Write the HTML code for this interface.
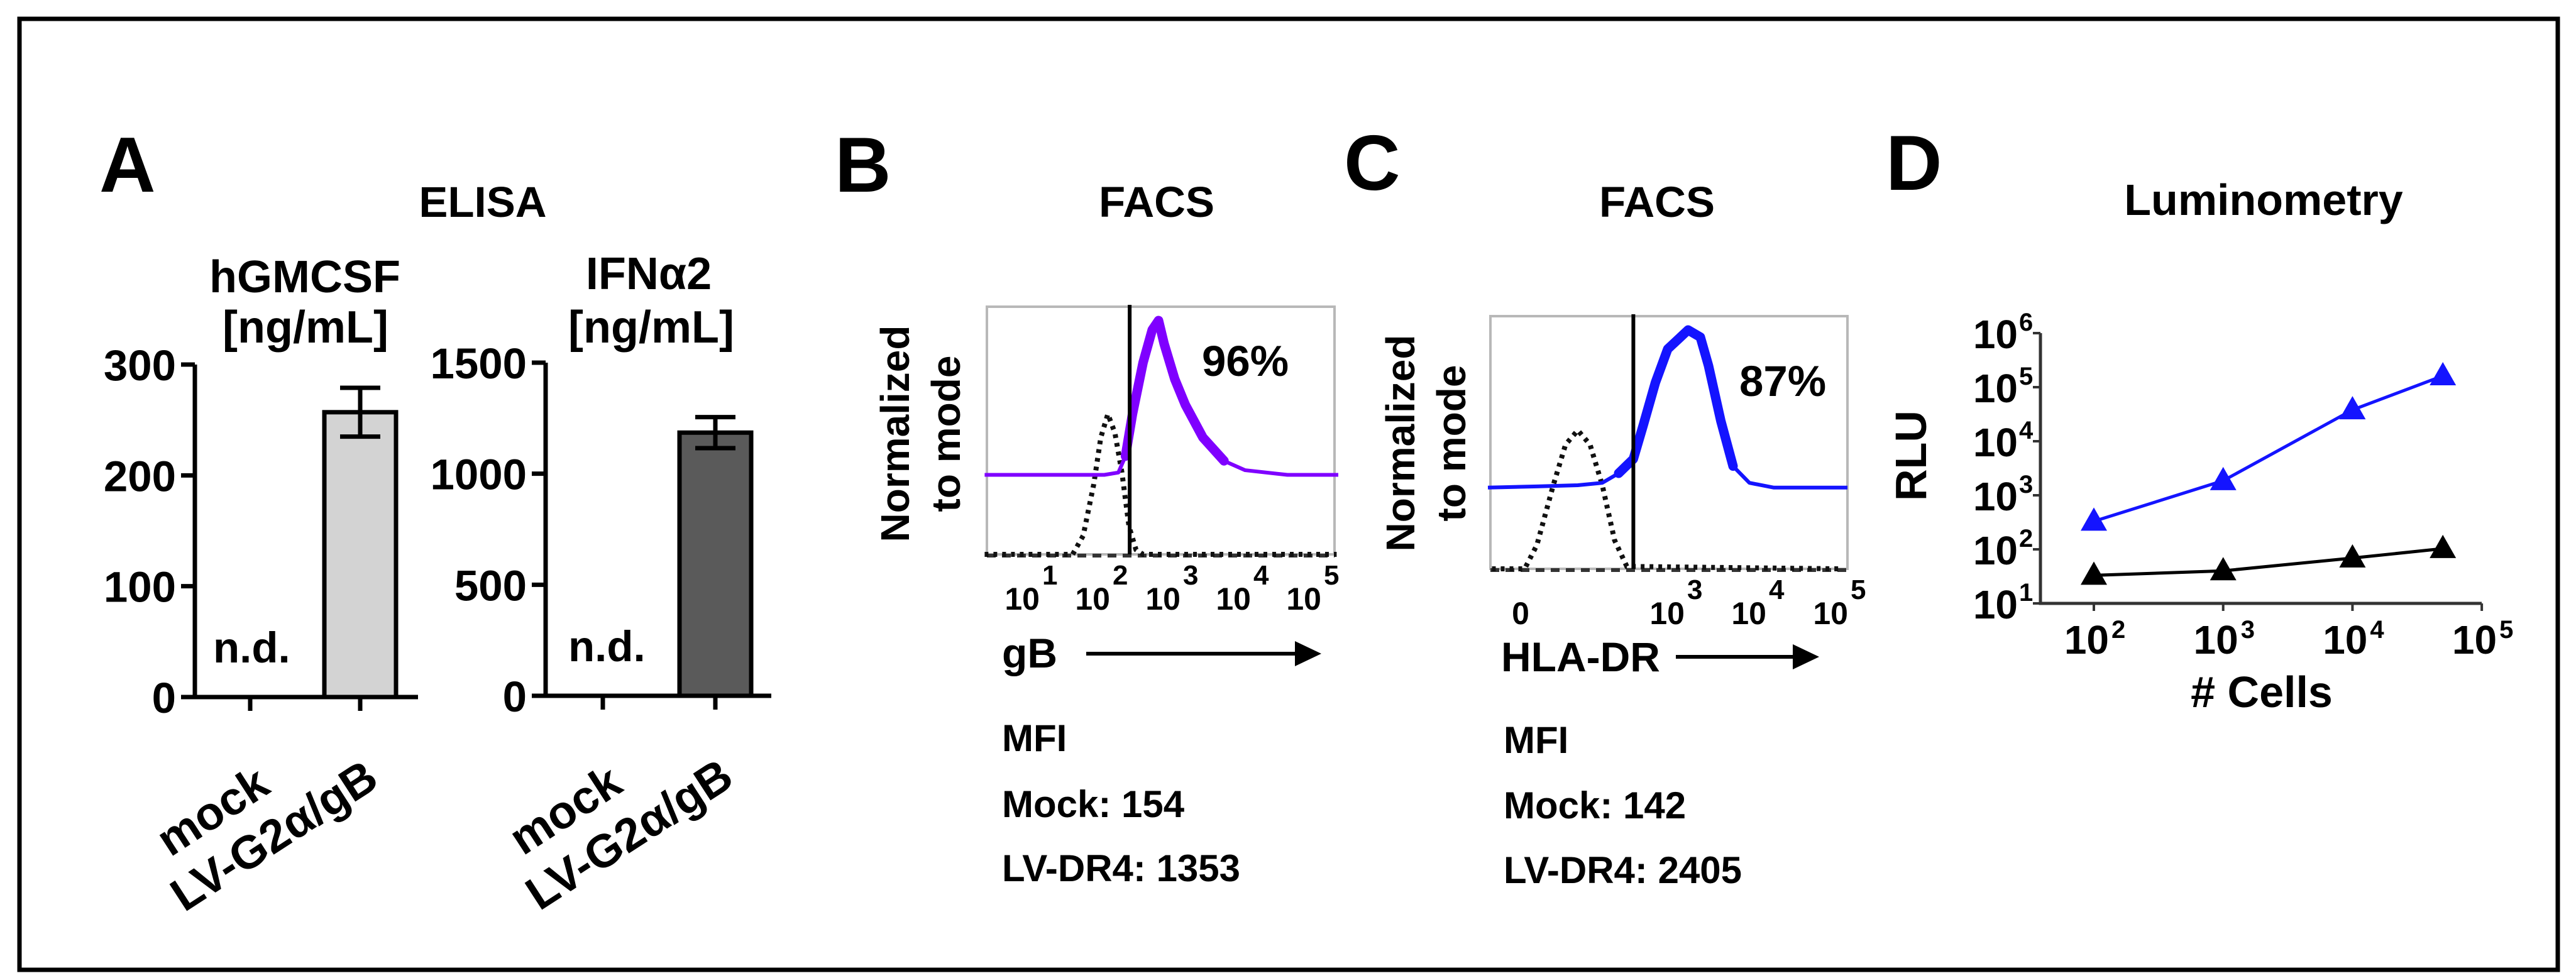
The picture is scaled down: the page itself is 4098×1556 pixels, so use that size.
<!DOCTYPE html>
<html><head><meta charset="utf-8">
<style>
html,body{margin:0;padding:0;background:#fff;}
svg{display:block;font-family:"Liberation Sans",Arial,sans-serif;font-weight:bold;}
</style></head>
<body>
<svg id="fig" xmlns="http://www.w3.org/2000/svg" width="4098" height="1556" viewBox="0 0 4098 1556">
<rect x="31" y="30" width="4038" height="1513" fill="#fff" stroke="#000" stroke-width="7"/>
<text x="158" y="305" font-size="124">A</text>
<text x="1328" y="305" font-size="124">B</text>
<text x="2138" y="302" font-size="124">C</text>
<text x="3000" y="302" font-size="124">D</text>
<text x="768" y="345" font-size="69" text-anchor="middle">ELISA</text>
<text x="485" y="465" font-size="72" text-anchor="middle">hGMCSF</text>
<text x="486" y="545" font-size="72" text-anchor="middle">[ng/mL]</text>
<text x="1032" y="460" font-size="72" text-anchor="middle">IFNα2</text>
<text x="1036" y="545" font-size="72" text-anchor="middle">[ng/mL]</text>
<text x="1840" y="345" font-size="69" text-anchor="middle">FACS</text>
<text x="2636" y="345" font-size="69" text-anchor="middle">FACS</text>
<text x="3601" y="342" font-size="70" text-anchor="middle">Luminometry</text>
<text transform="translate(1446,690) rotate(-90)" font-size="64" text-anchor="middle">Normalized</text>
<text transform="translate(1527,690) rotate(-90)" font-size="64" text-anchor="middle">to mode</text>
<text transform="translate(2250,705) rotate(-90)" font-size="64" text-anchor="middle">Normalized</text>
<text transform="translate(2331,705) rotate(-90)" font-size="64" text-anchor="middle">to mode</text>
<text x="1594" y="1062" font-size="66">gB</text>
<line x1="1728" y1="1040" x2="2070" y2="1040" stroke="#000" stroke-width="6"/>
<polygon points="2060,1020 2102,1040 2060,1060" fill="#000"/>
<text x="2388" y="1068" font-size="66">HLA-DR</text>
<line x1="2666" y1="1045" x2="2860" y2="1045" stroke="#000" stroke-width="6"/>
<polygon points="2852,1025 2894,1045 2852,1065" fill="#000"/>
<text x="1594" y="1195" font-size="60">MFI</text>
<text x="1594" y="1300" font-size="60">Mock: 154</text>
<text x="1594" y="1402" font-size="60">LV-DR4: 1353</text>
<text x="2392" y="1198" font-size="60">MFI</text>
<text x="2392" y="1302" font-size="60">Mock: 142</text>
<text x="2392" y="1405" font-size="60">LV-DR4: 2405</text>
<text x="1912" y="598" font-size="69">96%</text>
<text x="2767" y="630" font-size="69">87%</text>
<text transform="translate(3064,725) rotate(-90)" font-size="70" text-anchor="middle">RLU</text>
<text x="3598" y="1125" font-size="70" text-anchor="middle"># Cells</text>
<g id="dyn"></g>
</svg>
<script>
const barCategories = ["mock", "LV-G2α/gB"];
const gmcsfValues = [0, 257];
const gmcsfErr = [0, 22];
const gmcsfTicks = [0, 100, 200, 300];
const ifnValues = [0, 1185];
const ifnErr = [0, 70];
const ifnTicks = [0, 500, 1000, 1500];

const facsBDecades = [1, 2, 3, 4, 5];
const facsBLvD = [0.2,1.9,2.1,2.2,2.3,2.45,2.58,2.67,2.75,2.9,3.05,3.3,3.6,3.9,4.5,5.3];
const facsBLvV = [34,34,35,42,60,82,96,100,90,75,64,50,40,36,34,34];
const facsBMockD = [0.2,1.45,1.6,1.75,1.85,1.95,2.05,2.15,2.25,2.35,2.45,5.2];
const facsBMockV = [0,0,8,30,50,60,52,35,12,2,0,0];
const facsBGate = 2.26;

const facsCDecades = [3, 4, 5];
const facsCZero = 1.3;
const facsCLvD = [0.9,1.5,2.0,2.3,2.5,2.68,2.8,2.95,3.1,3.35,3.5,3.6,3.75,3.9,4.1,4.4,5.3];
const facsCLvV = [34,34.5,35,36,40,46,60,78,92,100,97,85,62,43,36,34,34];
const facsCMockD = [0.95,1.35,1.5,1.7,1.85,2.0,2.15,2.3,2.45,2.6,5.2];
const facsCMockV = [0,0,10,35,52,58,52,35,12,1,0];
const facsCGate = 2.68;

const lumCells = [100, 1000, 10000, 50000];
const lumLV = [330, 1860, 38000, 162000];
const lumMock = [33, 40, 69, 103];
const lumYTicks = [1, 2, 3, 4, 5, 6];
const lumXTicks = [2, 3, 4, 5];

const NS = "http://www.w3.org/2000/svg";
const root = document.getElementById("dyn");
function mk(tag, attrs, parent) {
  const el = document.createElementNS(NS, tag);
  for (const k in attrs) el.setAttribute(k, attrs[k]);
  (parent || root).appendChild(el);
  return el;
}

function barChart(cfg) {
  const y = v => cfg.y0 - (v / cfg.max) * (cfg.y0 - cfg.yTop);
  const ax = mk("path", {d:`M${cfg.ax},${cfg.yTop} V${cfg.y0} M${cfg.ax-20},${cfg.y0} H${cfg.xEnd}`, stroke:"#000","stroke-width":7,fill:"none"});
  
  
  cfg.ticks.forEach(t => {
    const tk = mk("line", {x1:cfg.ax-22,x2:cfg.ax,y1:y(t),y2:y(t),stroke:"#000","stroke-width":7});
    
    
    const lb = mk("text", {x:cfg.labR,y:y(t)+25,"font-size":69,"text-anchor":"end"});
    lb.textContent = t;
    
    
  });
  barCategories.forEach((c, i) => {
    const cx = cfg.cats[i];
    const xt = mk("line", {x1:cx,x2:cx,y1:cfg.y0,y2:cfg.y0+22,stroke:"#000","stroke-width":7});
    
    
    const v = cfg.values[i];
    if (v > 0) {
      const b = mk("rect", {x:cx-57,y:y(v),width:114,height:cfg.y0-y(v),fill:cfg.fill,stroke:"#000","stroke-width":7});
      
      
      const e = cfg.err[i];
      const eb = mk("path", {d:`M${cx},${y(v+e)} V${y(v-e)} M${cx-32},${y(v+e)} H${cx+32} M${cx-32},${y(v-e)} H${cx+32}`,stroke:"#000","stroke-width":7,fill:"none"});
      
      
    } else {
      const nd = mk("text", {x:cfg.ndX,y:cfg.y0-55,"font-size":69});
      nd.textContent = "n.d.";
      
      
    }
    const off = i === 0 ? [35, 150] : [33, 140];
    const lab = mk("text", {transform:`translate(${cx+off[0]},${cfg.y0+off[1]}) rotate(-33)`,"font-size":74,"text-anchor":"end"});
    lab.textContent = c;
    
    
  });
}
barChart({name:"gmcsf", ax:310, y0:1109, yTop:580, max:300, xEnd:665, cats:[398,573], values:gmcsfValues, err:gmcsfErr, ticks:gmcsfTicks, labR:280, fill:"#d3d3d3", ndX:339});
barChart({name:"ifn", ax:868, y0:1107, yTop:577, max:1500, xEnd:1227, cats:[959,1138], values:ifnValues, err:ifnErr, ticks:ifnTicks, labR:838, fill:"#5a5a5a", ndX:904});

function facs(cfg) {
  const x = d => cfg.xa + d * cfg.xs;
  const y = v => cfg.bot - v * cfg.ys;
  const box = mk("rect", {x:cfg.l,y:cfg.top,width:cfg.r-cfg.l,height:cfg.bot-cfg.top,fill:"none",stroke:"#b8b8b8","stroke-width":4});
  
  
  const bl = mk("line", {x1:cfg.l,x2:cfg.r,y1:cfg.bot+2,y2:cfg.bot+2,stroke:"#333","stroke-width":6,"stroke-dasharray":"14 10"});
  
  
  const mp = cfg.mockD.map((d,i)=>`${i?'L':'M'}${x(d)},${y(cfg.mockV[i])}`).join(' ');
  const mock = mk("path", {d:mp,fill:"none",stroke:"#111","stroke-width":8,"stroke-dasharray":"6 8"});
  
  
  const lp = cfg.lvD.map((d,i)=>`${i?'L':'M'}${Math.max(cfg.l-6,Math.min(cfg.r+6,x(d)))},${y(cfg.lvV[i])}`).join(' ');
  const lvThin = mk("path", {d:lp,fill:"none",stroke:cfg.color,"stroke-width":6,"stroke-linejoin":"round"});
  
  
  const idx = cfg.lvD.map((d,i)=>i).filter(i=>cfg.lvV[i] > 38);
  const tp = idx.map((i,k)=>`${k?'L':'M'}${x(cfg.lvD[i])},${y(cfg.lvV[i])}`).join(' ');
  const lvThick = mk("path", {d:tp,fill:"none",stroke:cfg.color,"stroke-width":15,"stroke-linejoin":"round","stroke-linecap":"round"});
  
  
  const g = mk("line", {x1:x(cfg.gate),x2:x(cfg.gate),y1:cfg.top-3,y2:cfg.bot,stroke:"#000","stroke-width":6});
  
  
  cfg.decades.forEach(d => {
    const t = mk("text", {x:x(d)+cfg.lo-2,y:cfg.bot+88,"font-size":50,"text-anchor":"end"});
    t.textContent = "10";
    
    
    const s = mk("text", {x:x(d)+cfg.lo+2,y:cfg.bot+48,"font-size":44});
    s.textContent = d;
    
    
  });
  if (cfg.zero !== undefined) {
    const z = mk("text", {x:x(cfg.zero),y:cfg.bot+88,"font-size":50,"text-anchor":"middle"});
    z.textContent = "0";
    
    
  }
}
facs({name:"facs-b", l:1570, r:2123, top:488, bot:882, xa:1544, xs:112, ys:3.72, lo:0, color:"#7f00ff", lvD:facsBLvD, lvV:facsBLvV, mockD:facsBMockD, mockV:facsBMockV, gate:facsBGate, decades:facsBDecades});
facs({name:"facs-c", l:2371, r:2939, top:503, bot:905, xa:2250, xs:130, ys:3.8, lo:42, color:"#1414ff", lvD:facsCLvD, lvV:facsCLvV, mockD:facsCMockD, mockV:facsCMockV, gate:facsCGate, decades:facsCDecades, zero:facsCZero});

const lx = v => 3331 + (Math.log10(v) - 2) * 205.7;
const ly = v => 960 - (Math.log10(v) - 1) * 86;
const lax = mk("path", {d:`M3246,${ly(1e6)} V960 H3948`, stroke:"#333","stroke-width":5, fill:"none"});


lumYTicks.forEach(e => {
  const yy = ly(Math.pow(10, e));
  const t = mk("line", {x1:3234,x2:3246,y1:yy,y2:yy,stroke:"#333","stroke-width":4});
  
  
  const a = mk("text", {x:3210,y:yy+24,"font-size":64,"text-anchor":"end"});
  a.textContent = "10";
  
  
  const b = mk("text", {x:3212,y:yy-4,"font-size":40});
  b.textContent = e;
  
  
});
lumXTicks.forEach(e => {
  const xx = lx(Math.pow(10, e));
  const t = mk("line", {x1:xx,x2:xx,y1:960,y2:972,stroke:"#333","stroke-width":4});
  
  
  const a = mk("text", {x:xx+24,y:1040,"font-size":64,"text-anchor":"end"});
  a.textContent = "10";
  
  
  const b = mk("text", {x:xx+28,y:1015,"font-size":40});
  b.textContent = e;
  
  
});
function series(vals, color, name) {
  const d = lumCells.map((c,i)=>`${i?'L':'M'}${lx(c)},${ly(vals[i])}`).join(' ');
  const p = mk("path", {d:d, fill:"none", stroke:color, "stroke-width":5});
  
  
  lumCells.forEach((c,i) => {
    const cx = lx(c), cy = ly(vals[i]);
    const m = mk("polygon", {points:`${cx},${cy-22} ${cx-21},${cy+15} ${cx+21},${cy+15}`, fill:color});
    
    
  });
}
series(lumMock, "#000", "lum-mock");
series(lumLV, "#1414ff", "lum-lv");
</script>
</body></html>
